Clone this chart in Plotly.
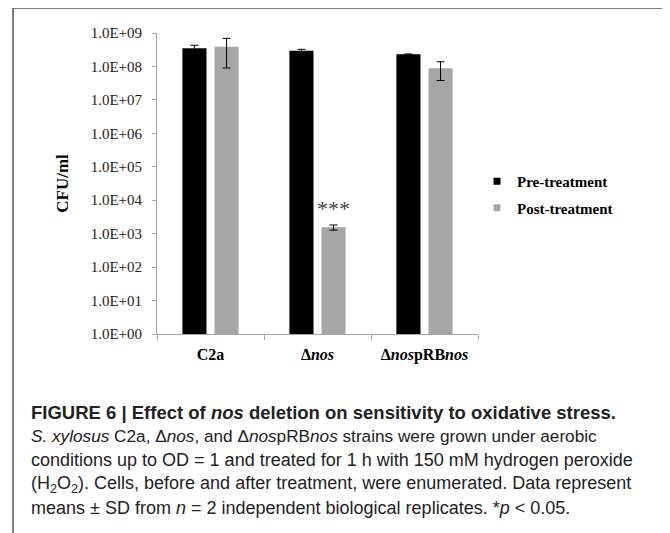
import plotly.graph_objects as go

categories = ["<b>C2a</b>", "<b>Δ<i>nos</i></b>", "<b>Δ<i>nos</i>pRB<i>nos</i></b>"]
series_names = ["Pre-treatment", "Post-treatment"]
pre_values = [3.5e8, 2.95e8, 2.3e8]
pre_sd = [0.8e8, 0.3e8, 0.05e8]
post_values = [3.9e8, 1550, 8.8e7]
post_sd = [3.0e8, 270, 5.0e7]
y_tick_exponents = [0, 1, 2, 3, 4, 5, 6, 7, 8, 9]
y_tick_labels = ["1.0E+00", "1.0E+01", "1.0E+02", "1.0E+03", "1.0E+04",
                 "1.0E+05", "1.0E+06", "1.0E+07", "1.0E+08", "1.0E+09"]
colors = ["#000000", "#a6a6a6"]

caption_lines = [
    "<b>FIGURE 6 | Effect of <i>nos</i> deletion on sensitivity to oxidative stress.</b>",
    "<i>S. xylosus</i> C2a, Δ<i>nos</i>, and Δ<i>nos</i>pRB<i>nos</i> strains were grown under aerobic",
    "conditions up to OD = 1 and treated for 1 h with 150 mM hydrogen peroxide",
    "(H<sub>2</sub>O<sub>2</sub>). Cells, before and after treatment, were enumerated. Data represent",
    "means ± SD from <i>n</i> = 2 independent biological replicates. *<i>p</i> &lt; 0.05.",
]
caption_sizes = [18.5, 17.2, 18, 18, 18]

OFF = 8  # page body margin
W, H = 670 - OFF, 533 - OFF
L, T = 157 - OFF, 33 - OFF
R = W - (478 - OFF)
B = H - (334 - OFF)
pw, ph = W - L - R, H - T - B

def px(x):
    return (x - OFF - L) / pw

def py(y):
    return (H - B - (y - OFF)) / ph

serif = "Liberation Serif, Times New Roman, serif"
sans = "Liberation Sans, Arial, sans-serif"

fig = go.Figure()
for name, vals, sd, col in [(series_names[0], pre_values, pre_sd, colors[0]),
                            (series_names[1], post_values, post_sd, colors[1])]:
    fig.add_trace(go.Bar(
        x=categories, y=vals, name=name, marker_color=col,
        marker_line_width=0, showlegend=False,
        error_y=dict(type="data", array=sd, visible=True, color="#000000",
                     thickness=1, width=4),
    ))

for i, (name, col) in enumerate(zip(series_names, colors)):
    fig.add_trace(go.Scatter(
        x=[None], y=[None], mode="markers", name=f"<b>{name}</b>",
        marker=dict(symbol="square", size=7, color=col),
        legendgroup=f"g{i}", showlegend=True,
    ))

fig.update_layout(
    width=W, height=H,
    margin=dict(l=L, r=R, t=T, b=B, pad=0),
    paper_bgcolor="white", plot_bgcolor="white",
    barmode="group", bargap=0.4, bargroupgap=0.25,
    showlegend=True,
    legend=dict(x=px(477), y=py(194.5), xanchor="left", yanchor="middle",
                font=dict(family=serif, size=15, color="#000000"),
                tracegroupgap=4, itemwidth=30, bgcolor="rgba(0,0,0,0)"),
    font=dict(family=serif, color="#000000"),
)

fig.update_xaxes(
    type="category", showline=True, linecolor="#a6a6a6", linewidth=1,
    ticks="outside", tickson="boundaries", ticklen=5, tickcolor="#a6a6a6",
    tickfont=dict(family=serif, size=16, color="#000000"),
    ticklabelstandoff=6, showgrid=False, zeroline=False,
)

fig.update_yaxes(
    type="log", range=[0, 9], showline=True, linecolor="#a6a6a6", linewidth=1,
    ticks="outside", ticklen=4, tickcolor="#a6a6a6",
    tickvals=[10 ** e for e in y_tick_exponents], ticktext=y_tick_labels,
    tickfont=dict(family=serif, size=15, color="#222222"),
    ticklabelstandoff=7, showgrid=False, zeroline=False,
    title=dict(text="<b>CFU/ml</b>", font=dict(family=serif, size=17, color="#000000"),
               standoff=17),
)

# significance marker
fig.add_annotation(
    x=categories[1], y=3.76, xref="x", yref="y", xshift=16,
    text="***", showarrow=False, font=dict(family=serif, size=22, color="#444444"),
    xanchor="center", yanchor="middle",
)

# frame lines
fig.add_shape(type="line", xref="paper", yref="paper", x0=px(13), x1=px(672),
              y0=py(8), y1=py(8), line=dict(color="#555555", width=1.5))
fig.add_shape(type="line", xref="paper", yref="paper", x0=px(13), x1=px(13),
              y0=py(8), y1=py(535), line=dict(color="#555555", width=1.5))

caption_y = [412, 436, 460, 484, 508]
for txt, yy, sz in zip(caption_lines, caption_y, caption_sizes):
    fig.add_annotation(
        x=px(29), y=py(yy), xref="paper", yref="paper", text=txt,
        showarrow=False, xanchor="left", yanchor="middle", align="left",
        font=dict(family=sans, size=sz, color="#222222"),
    )

fig.write_html("out.html")
